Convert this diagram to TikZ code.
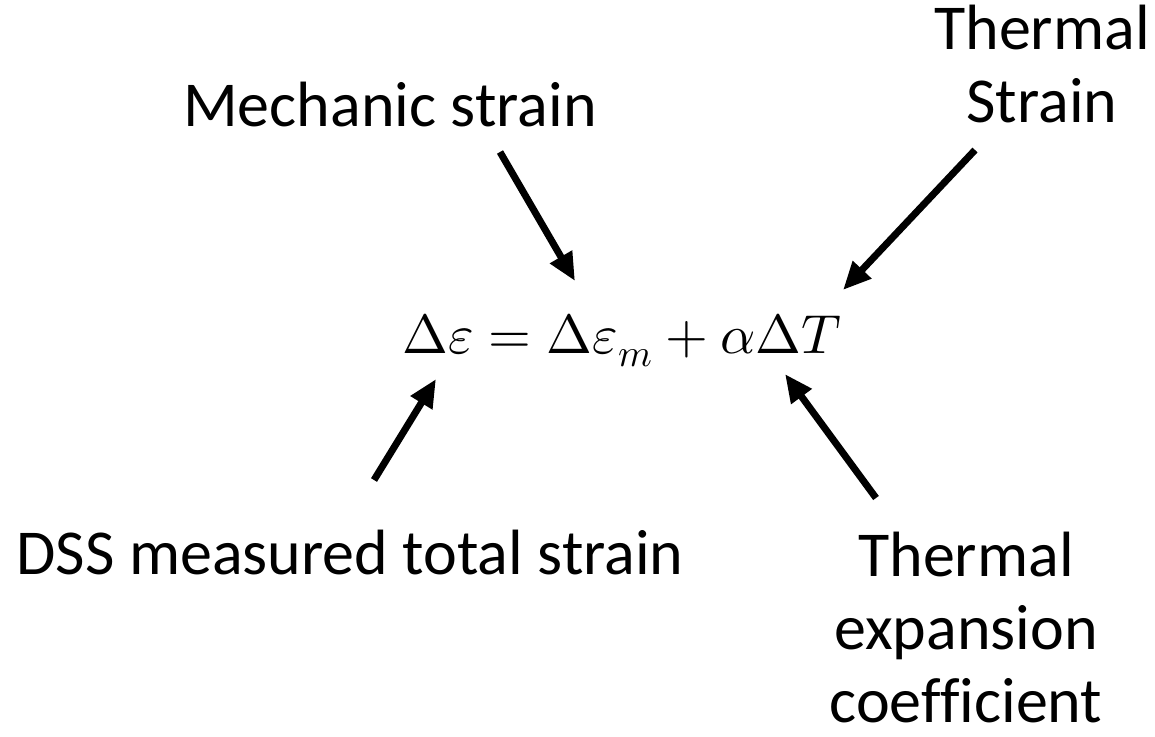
\documentclass[tikz,border=0pt]{standalone}
\usepackage{fontspec}
\usepackage{unicode-math}
\setmainfont[Ligatures=NoCommon]{Carlito}
\usetikzlibrary{arrows.meta, positioning}

\begin{document}
\begin{tikzpicture}[x=0.5pt, y=-0.5pt,
        txt/.style={align=center, font=\fontsize{32}{36.5}\selectfont, inner sep=0pt},
        eqn/.style={font=\fontsize{27.5}{32}\selectfont, inner sep=0pt},
        arr/.style={-{Triangle[length=14pt, width=12pt]}, line width=3.5pt}]
        \useasboundingbox (0,0) rectangle (1155,736);

        \node[eqn, anchor=base] (eq) at (622,353) {$\Delta\varepsilon = \Delta\varepsilon_m + \alpha\Delta T$};
        \node[txt] (mech) at (390,105) {Mechanic strain};
        \node[txt] (thstr) at (1042,64) {Thermal\\Strain};
        \node[txt] (dss) at (350,552) {DSS measured total strain};
        \node[txt] (thexp) at (966,627) {Thermal\\expansion\\coefficient};

        % arrow ends
        \coordinate (m0) at (500,152);
        \coordinate (m1) at (575,281);
        \coordinate (t0) at (975,150);
        \coordinate (t1) at (843,290);
        \coordinate (d0) at (374,480);
        \coordinate (d1) at (436,379);
        \coordinate (e0) at (876,498);
        \coordinate (e1) at (785,374);

        \draw[arr] (m0) -- (m1);
        \draw[arr] (t0) -- (t1);
        \draw[arr] (d0) -- (d1);
        \draw[arr] (e0) -- (e1);
\end{tikzpicture}
\end{document}
